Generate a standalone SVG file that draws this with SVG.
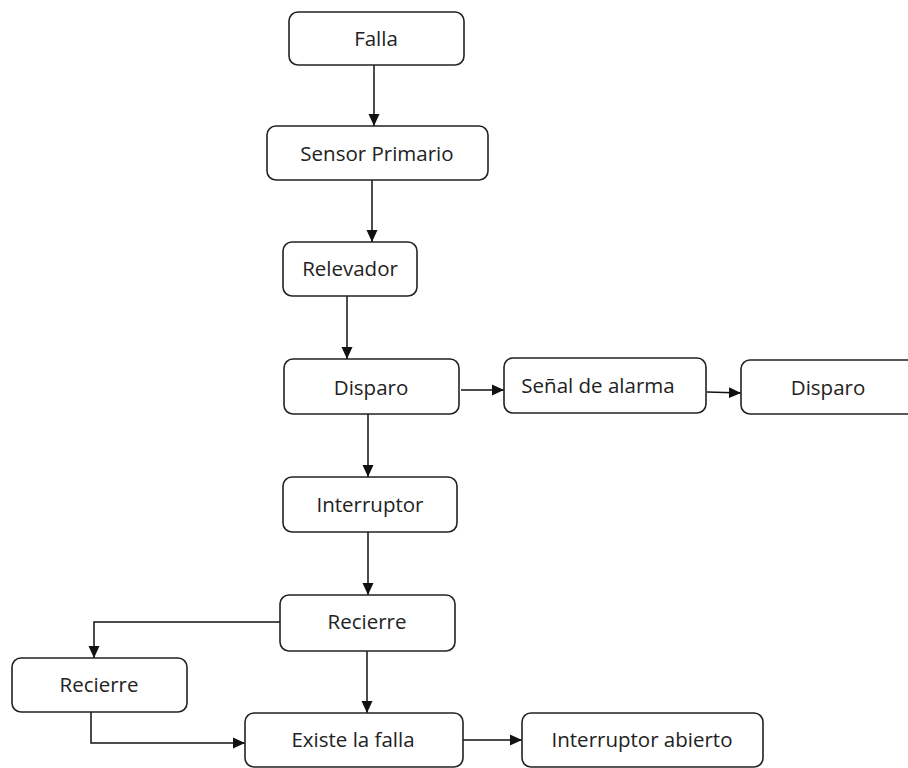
<svg xmlns="http://www.w3.org/2000/svg" width="908" height="768" viewBox="0 0 908 768">
  <defs>
    <marker id="arrow" viewBox="0 0 12 12" refX="12" refY="6" markerWidth="12" markerHeight="12" markerUnits="userSpaceOnUse" orient="auto">
      <path d="M0,0.5 L12,6 L0,11.5 z" fill="#111"/>
    </marker>
    <style>
      .box { fill: #fff; stroke: #222; stroke-width: 1.6; }
      .lbl { font-family: "Open Sans", "DejaVu Sans", sans-serif; font-size: 20.5px; fill: #222; text-anchor: middle; dominant-baseline: central; }
      .edge { fill: none; stroke: #111; stroke-width: 1.5; }
      .edge-arrow { marker-end: url(#arrow); }
    </style>
  </defs>
  <rect width="908" height="768" fill="#fff"/>

  <g id="connectors">
    <line class="edge edge-arrow" x1="374" y1="65" x2="374" y2="126"/>
    <line class="edge edge-arrow" x1="372" y1="180" x2="372" y2="242"/>
    <line class="edge edge-arrow" x1="347" y1="296" x2="347" y2="359"/>
    <line class="edge edge-arrow" x1="461" y1="390" x2="504" y2="390"/>
    <line class="edge edge-arrow" x1="707" y1="392" x2="741" y2="393"/>
    <line class="edge edge-arrow" x1="368" y1="414" x2="368" y2="477"/>
    <line class="edge edge-arrow" x1="368" y1="532" x2="368" y2="595"/>
    <polyline class="edge edge-arrow" points="280,622 94,622 94,658"/>
    <line class="edge edge-arrow" x1="367" y1="651" x2="367" y2="713"/>
    <polyline class="edge edge-arrow" points="91,712 91,743 245,743"/>
    <line class="edge edge-arrow" x1="463" y1="740" x2="522" y2="740"/>
  </g>

  <g id="falla">
    <rect class="box" x="289" y="12" width="175" height="53" rx="9"/>
    <text class="lbl" x="376" y="38">Falla</text>
  </g>
  <g id="sensor-primario">
    <rect class="box" x="267" y="126" width="221" height="54" rx="9"/>
    <text class="lbl" x="377" y="153">Sensor Primario</text>
  </g>
  <g id="relevador">
    <rect class="box" x="283" y="242" width="134" height="54" rx="9"/>
    <text class="lbl" x="350" y="268">Relevador</text>
  </g>
  <g id="disparo">
    <rect class="box" x="284" y="359" width="175" height="55" rx="9"/>
    <text class="lbl" x="371" y="387">Disparo</text>
  </g>
  <g id="senal-alarma">
    <rect class="box" x="504" y="358" width="202" height="55" rx="9"/>
    <text class="lbl" x="598" y="385">Señal de alarma</text>
  </g>
  <g id="disparo-2">
    <rect class="box" x="741" y="360" width="190" height="54" rx="9"/>
    <text class="lbl" x="828" y="387">Disparo</text>
  </g>
  <g id="interruptor">
    <rect class="box" x="283" y="477" width="174" height="55" rx="9"/>
    <text class="lbl" x="370" y="504">Interruptor</text>
  </g>
  <g id="recierre">
    <rect class="box" x="280" y="595" width="175" height="56" rx="9"/>
    <text class="lbl" x="367" y="621">Recierre</text>
  </g>
  <g id="recierre-2">
    <rect class="box" x="12" y="658" width="175" height="54" rx="9"/>
    <text class="lbl" x="99" y="684">Recierre</text>
  </g>
  <g id="existe-falla">
    <rect class="box" x="245" y="713" width="218" height="54" rx="9"/>
    <text class="lbl" x="353" y="739">Existe la falla</text>
  </g>
  <g id="interruptor-abierto">
    <rect class="box" x="522" y="713" width="241" height="54" rx="9"/>
    <text class="lbl" x="642" y="739">Interruptor abierto</text>
  </g>
</svg>
